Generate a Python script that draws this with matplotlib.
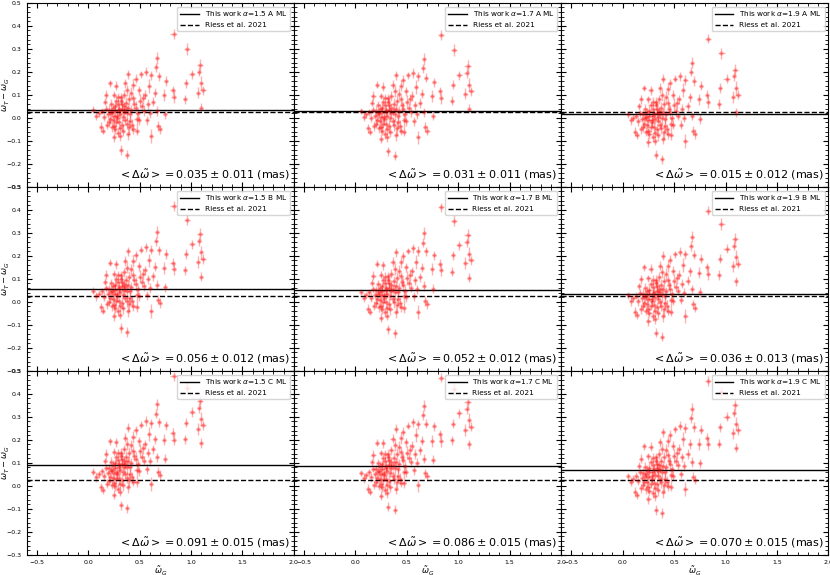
import numpy as np
import matplotlib
matplotlib.use('Agg')
import matplotlib.pyplot as plt
#
# Gaia parallax (x) shared by all panels
x = [0.83, 0.96, 0.67, 0.66, 1.09, 1.08, 1.01, 0.95, 1.10, 1.12,
     1.07, 0.94, 1.10, 0.82, 0.83, 0.76, 0.74, 0.39, 0.46, 0.51,
     0.56, 0.61, 0.69, 0.21, 0.27, 0.36, 0.44, 0.49, 0.59, 0.65,
     0.175, 0.25, 0.42, 0.55, 0.63, 0.16, 0.32, 0.50, 0.05, 0.08,
     0.13, 0.20, 0.26, 0.33, 0.39, 0.46, 0.54, 0.60, 0.67, 0.75,
     0.15, 0.21, 0.28, 0.34, 0.41, 0.47, 0.57, 0.12, 0.18, 0.25,
     0.31, 0.375, 0.44, 0.49, 0.68, 0.70, 0.14, 0.25, 0.31, 0.39,
     0.47, 0.61, 0.32, 0.38, 0.24, 0.295, 0.23, 0.345, 0.28, 0.30,
     0.22, 0.36, 0.27, 0.19, 0.33, 0.40, 0.52, 0.29, 0.35, 0.43,
     0.22, 0.26, 0.31, 0.35, 0.38, 0.42, 0.27, 0.33, 0.24, 0.29,
     0.37, 0.45, 0.17, 0.20, 0.26, 0.34, 0.40, 0.48, 0.30, 0.25,
     0.32, 0.38, 0.29, 0.36, 0.44, 0.53, 0.58, 0.10, 0.23, 0.41]
xerr = [0.03, 0.03, 0.02, 0.02, 0.03, 0.02, 0.03, 0.02, 0.02, 0.03,
        0.02, 0.02, 0.02, 0.02, 0.02, 0.02, 0.02, 0.02, 0.02, 0.02,
        0.02, 0.02, 0.02, 0.02, 0.02, 0.02, 0.02, 0.02, 0.02, 0.02,
        0.02, 0.02, 0.02, 0.02, 0.02, 0.02, 0.02, 0.02, 0.02, 0.02,
        0.02, 0.02, 0.02, 0.02, 0.02, 0.02, 0.02, 0.02, 0.02, 0.02,
        0.02, 0.02, 0.02, 0.02, 0.02, 0.02, 0.02, 0.02, 0.02, 0.02,
        0.02, 0.02, 0.02, 0.02, 0.02, 0.02, 0.02, 0.02, 0.02, 0.02,
        0.02, 0.02, 0.02, 0.02, 0.02, 0.02, 0.02, 0.02, 0.02, 0.02,
        0.02, 0.02, 0.02, 0.02, 0.02, 0.02, 0.02, 0.02, 0.02, 0.02,
        0.02, 0.02, 0.02, 0.02, 0.02, 0.02, 0.02, 0.02, 0.02, 0.02,
        0.02, 0.02, 0.02, 0.02, 0.02, 0.02, 0.02, 0.02, 0.02, 0.02,
        0.02, 0.02, 0.02, 0.02, 0.02, 0.02, 0.02, 0.02, 0.02, 0.02]
yerr = [0.02, 0.025, 0.025, 0.02, 0.025, 0.02, 0.02, 0.02, 0.03, 0.02,
        0.025, 0.02, 0.02, 0.02, 0.025, 0.02, 0.025, 0.02, 0.02, 0.015,
        0.02, 0.02, 0.02, 0.015, 0.02, 0.02, 0.025, 0.02, 0.03, 0.02,
        0.02, 0.015, 0.025, 0.02, 0.02, 0.015, 0.02, 0.03, 0.015, 0.02,
        0.015, 0.02, 0.02, 0.025, 0.02, 0.03, 0.02, 0.02, 0.02, 0.02,
        0.02, 0.02, 0.025, 0.02, 0.02, 0.03, 0.02, 0.02, 0.02, 0.025,
        0.02, 0.025, 0.02, 0.02, 0.02, 0.02, 0.015, 0.02, 0.02, 0.025,
        0.02, 0.03, 0.02, 0.02, 0.02, 0.02, 0.02, 0.02, 0.02, 0.025,
        0.02, 0.02, 0.02, 0.015, 0.02, 0.025, 0.02, 0.02, 0.02, 0.025,
        0.02, 0.025, 0.02, 0.02, 0.03, 0.02, 0.02, 0.025, 0.02, 0.02,
        0.025, 0.02, 0.015, 0.02, 0.02, 0.025, 0.03, 0.02, 0.02, 0.02,
        0.02, 0.025, 0.02, 0.02, 0.02, 0.025, 0.02, 0.015, 0.02, 0.025]
#
yA15 = [0.365, 0.30, 0.26, 0.22, 0.23, 0.20, 0.19, 0.15, 0.15, 0.12,
        0.11, 0.08, 0.045, 0.12, 0.09, 0.16, 0.10, 0.19, 0.17, 0.19,
        0.20, 0.185, 0.18, 0.15, 0.14, 0.15, 0.145, 0.12, 0.14, 0.11,
        0.10, 0.10, 0.11, 0.10, 0.07, 0.07, 0.075, 0.075, 0.035, 0.01,
        0.03, 0.035, 0.05, 0.06, 0.045, 0.045, 0.03, 0.02, 0.03, 0.015,
        0.005, -0.005, 0.01, 0.005, 0.015, -0.005, -0.01, -0.04, -0.03, -0.035,
        -0.045, -0.025, -0.05, -0.01, -0.035, -0.05, -0.055, -0.085, -0.08, -0.07,
        -0.055, -0.08, -0.14, -0.16, -0.01, 0.03, 0.025, 0.025, 0.0, -0.02,
        0.06, -0.01, 0.075, 0.015, 0.04, 0.08, 0.05, 0.09, 0.10, -0.03,
        0.02, 0.03, 0.015, 0.05, 0.02, 0.035, -0.02, -0.03, 0.045, 0.06,
        0.065, 0.06, 0.04, -0.02, -0.05, -0.055, -0.04, 0.02, 0.04, 0.01,
        0.09, 0.12, -0.065, 0.035, 0.085, 0.085, 0.06, 0.02, -0.04, -0.015]
yA17 = [0.36, 0.295, 0.255, 0.215, 0.225, 0.195, 0.185, 0.145, 0.145, 0.115,
        0.105, 0.075, 0.04, 0.115, 0.085, 0.155, 0.095, 0.185, 0.165, 0.185,
        0.195, 0.18, 0.175, 0.145, 0.135, 0.145, 0.14, 0.115, 0.135, 0.105,
        0.095, 0.095, 0.105, 0.095, 0.065, 0.065, 0.07, 0.07, 0.03, 0.005,
        0.025, 0.03, 0.045, 0.055, 0.04, 0.04, 0.025, 0.015, 0.025, 0.01,
        0.0, -0.01, 0.005, 0.0, 0.01, -0.01, -0.015, -0.045, -0.035, -0.04,
        -0.05, -0.03, -0.055, -0.015, -0.04, -0.055, -0.06, -0.09, -0.085, -0.075,
        -0.06, -0.085, -0.145, -0.165, -0.015, 0.025, 0.02, 0.02, -0.005, -0.025,
        0.055, -0.015, 0.07, 0.01, 0.035, 0.075, 0.045, 0.085, 0.095, -0.035,
        0.015, 0.025, 0.01, 0.045, 0.015, 0.03, -0.025, -0.035, 0.04, 0.055,
        0.06, 0.055, 0.035, -0.025, -0.055, -0.06, -0.045, 0.015, 0.035, 0.005,
        0.085, 0.115, -0.07, 0.03, 0.08, 0.08, 0.055, 0.015, -0.045, -0.02]
yA19 = [0.345, 0.28, 0.24, 0.20, 0.21, 0.18, 0.17, 0.13, 0.13, 0.10,
        0.09, 0.06, 0.025, 0.10, 0.07, 0.14, 0.08, 0.17, 0.15, 0.17,
        0.18, 0.165, 0.16, 0.13, 0.12, 0.13, 0.125, 0.10, 0.12, 0.09,
        0.08, 0.08, 0.09, 0.08, 0.05, 0.05, 0.055, 0.055, 0.015, -0.01,
        0.01, 0.015, 0.03, 0.04, 0.025, 0.025, 0.01, 0.0, 0.01, -0.005,
        -0.015, -0.025, -0.01, -0.015, -0.005, -0.025, -0.03, -0.06, -0.05, -0.055,
        -0.065, -0.045, -0.07, -0.03, -0.055, -0.07, -0.075, -0.105, -0.10, -0.09,
        -0.075, -0.10, -0.16, -0.18, -0.03, 0.01, 0.005, 0.005, -0.02, -0.04,
        0.04, -0.03, 0.055, -0.005, 0.02, 0.06, 0.03, 0.07, 0.08, -0.05,
        0.0, 0.01, -0.005, 0.03, 0.0, 0.015, -0.04, -0.05, 0.025, 0.04,
        0.045, 0.04, 0.02, -0.04, -0.07, -0.075, -0.06, 0.0, 0.02, -0.01,
        0.07, 0.10, -0.085, 0.015, 0.065, 0.065, 0.04, 0.0, -0.06, -0.035]
yB15 = [0.417, 0.358, 0.304, 0.263, 0.295, 0.264, 0.251, 0.208, 0.215, 0.186,
        0.174, 0.137, 0.11, 0.171, 0.142, 0.208, 0.147, 0.22, 0.203, 0.226,
        0.238, 0.226, 0.225, 0.171, 0.164, 0.178, 0.177, 0.155, 0.18, 0.153,
        0.119, 0.123, 0.141, 0.138, 0.112, 0.088, 0.101, 0.11, 0.048, 0.024,
        0.047, 0.055, 0.073, 0.087, 0.075, 0.078, 0.067, 0.06, 0.074, 0.063,
        0.023, 0.016, 0.034, 0.032, 0.046, 0.029, 0.029, -0.024, -0.011, -0.013,
        -0.02, 0.004, -0.018, 0.025, 0.009, -0.005, -0.038, -0.063, -0.055, -0.041,
        -0.022, -0.04, -0.114, -0.131, 0.012, 0.055, 0.047, 0.052, 0.024, 0.005,
        0.081, 0.018, 0.099, 0.035, 0.067, 0.11, 0.086, 0.115, 0.128, 0.002,
        0.041, 0.053, 0.041, 0.078, 0.049, 0.066, 0.004, -0.004, 0.067, 0.085,
        0.094, 0.093, 0.059, 0.0, -0.027, -0.028, -0.01, 0.054, 0.065, 0.033,
        0.116, 0.149, -0.041, 0.063, 0.117, 0.122, 0.099, 0.035, -0.019, 0.016]
yB17 = [0.412, 0.353, 0.299, 0.258, 0.29, 0.259, 0.246, 0.203, 0.21, 0.181,
        0.169, 0.132, 0.105, 0.166, 0.137, 0.203, 0.142, 0.215, 0.198, 0.221,
        0.233, 0.221, 0.22, 0.166, 0.159, 0.173, 0.172, 0.15, 0.175, 0.148,
        0.114, 0.118, 0.136, 0.133, 0.107, 0.083, 0.096, 0.105, 0.043, 0.019,
        0.042, 0.05, 0.068, 0.082, 0.07, 0.073, 0.062, 0.055, 0.069, 0.058,
        0.018, 0.011, 0.029, 0.027, 0.041, 0.024, 0.024, -0.029, -0.016, -0.018,
        -0.025, -0.001, -0.023, 0.02, 0.004, -0.01, -0.043, -0.068, -0.06, -0.046,
        -0.027, -0.045, -0.119, -0.136, 0.007, 0.05, 0.042, 0.047, 0.019, 0.0,
        0.076, 0.013, 0.094, 0.03, 0.062, 0.105, 0.081, 0.11, 0.123, -0.003,
        0.036, 0.048, 0.036, 0.073, 0.044, 0.061, -0.001, -0.009, 0.062, 0.08,
        0.089, 0.088, 0.054, -0.005, -0.032, -0.033, -0.015, 0.049, 0.06, 0.028,
        0.111, 0.144, -0.046, 0.058, 0.112, 0.117, 0.094, 0.03, -0.024, 0.011]
yB19 = [0.397, 0.338, 0.284, 0.243, 0.275, 0.244, 0.231, 0.188, 0.195, 0.166,
        0.154, 0.117, 0.09, 0.151, 0.122, 0.188, 0.127, 0.20, 0.183, 0.206,
        0.218, 0.206, 0.205, 0.151, 0.144, 0.158, 0.157, 0.135, 0.16, 0.133,
        0.099, 0.103, 0.121, 0.118, 0.092, 0.068, 0.081, 0.09, 0.028, 0.004,
        0.027, 0.035, 0.053, 0.067, 0.055, 0.058, 0.047, 0.04, 0.054, 0.043,
        0.003, -0.004, 0.014, 0.012, 0.026, 0.009, 0.009, -0.044, -0.031, -0.033,
        -0.04, -0.016, -0.038, 0.005, -0.011, -0.025, -0.058, -0.083, -0.075, -0.061,
        -0.042, -0.06, -0.134, -0.151, -0.008, 0.035, 0.027, 0.032, 0.004, -0.015,
        0.061, -0.002, 0.079, 0.015, 0.047, 0.09, 0.066, 0.095, 0.108, -0.018,
        0.021, 0.033, 0.021, 0.058, 0.029, 0.046, -0.016, -0.024, 0.047, 0.065,
        0.074, 0.073, 0.039, -0.02, -0.047, -0.048, -0.03, 0.034, 0.045, 0.013,
        0.096, 0.129, -0.061, 0.043, 0.097, 0.102, 0.079, 0.015, -0.039, -0.004]
yC15 = [0.476, 0.426, 0.354, 0.313, 0.37, 0.339, 0.321, 0.275, 0.291, 0.263,
        0.248, 0.203, 0.186, 0.23, 0.201, 0.264, 0.201, 0.253, 0.241, 0.266,
        0.282, 0.272, 0.276, 0.193, 0.19, 0.21, 0.213, 0.194, 0.225, 0.202,
        0.139, 0.148, 0.176, 0.18, 0.159, 0.108, 0.13, 0.15, 0.061, 0.039,
        0.064, 0.077, 0.099, 0.116, 0.108, 0.116, 0.109, 0.106, 0.124, 0.118,
        0.042, 0.038, 0.061, 0.062, 0.08, 0.067, 0.073, -0.007, 0.01, 0.013,
        0.009, 0.036, 0.018, 0.064, 0.06, 0.047, -0.02, -0.038, -0.026, -0.007,
        0.017, 0.007, -0.085, -0.098, 0.036, 0.082, 0.07, 0.083, 0.051, 0.033,
        0.104, 0.05, 0.125, 0.056, 0.096, 0.144, 0.127, 0.142, 0.159, 0.037,
        0.064, 0.079, 0.069, 0.109, 0.082, 0.101, 0.03, 0.026, 0.091, 0.112,
        0.126, 0.13, 0.079, 0.022, -0.001, 0.002, 0.024, 0.093, 0.093, 0.058,
        0.145, 0.182, -0.013, 0.095, 0.153, 0.163, 0.144, 0.051, 0.005, 0.05]
yC17 = [0.471, 0.421, 0.349, 0.308, 0.365, 0.334, 0.316, 0.27, 0.286, 0.258,
        0.243, 0.198, 0.181, 0.225, 0.196, 0.259, 0.196, 0.248, 0.236, 0.261,
        0.277, 0.267, 0.271, 0.188, 0.185, 0.205, 0.208, 0.189, 0.22, 0.197,
        0.134, 0.143, 0.171, 0.175, 0.154, 0.103, 0.125, 0.145, 0.056, 0.034,
        0.059, 0.072, 0.094, 0.111, 0.103, 0.111, 0.104, 0.101, 0.119, 0.113,
        0.037, 0.033, 0.056, 0.057, 0.075, 0.062, 0.068, -0.012, 0.005, 0.008,
        0.004, 0.031, 0.013, 0.059, 0.055, 0.042, -0.025, -0.043, -0.031, -0.012,
        0.012, 0.002, -0.09, -0.103, 0.031, 0.077, 0.065, 0.078, 0.046, 0.028,
        0.099, 0.045, 0.12, 0.051, 0.091, 0.139, 0.122, 0.137, 0.154, 0.032,
        0.059, 0.074, 0.064, 0.104, 0.077, 0.096, 0.025, 0.021, 0.086, 0.107,
        0.121, 0.125, 0.074, 0.017, -0.006, -0.003, 0.019, 0.088, 0.088, 0.053,
        0.14, 0.177, -0.018, 0.09, 0.148, 0.158, 0.139, 0.046, 0.0, 0.045]
yC19 = [0.456, 0.406, 0.334, 0.293, 0.35, 0.319, 0.301, 0.255, 0.271, 0.243,
        0.228, 0.183, 0.166, 0.21, 0.181, 0.244, 0.181, 0.233, 0.221, 0.246,
        0.262, 0.252, 0.256, 0.173, 0.17, 0.19, 0.193, 0.174, 0.205, 0.182,
        0.119, 0.128, 0.156, 0.16, 0.139, 0.088, 0.11, 0.13, 0.041, 0.019,
        0.044, 0.057, 0.079, 0.096, 0.088, 0.096, 0.089, 0.086, 0.104, 0.098,
        0.022, 0.018, 0.041, 0.042, 0.06, 0.047, 0.053, -0.027, -0.01, -0.007,
        -0.011, 0.016, -0.002, 0.044, 0.04, 0.027, -0.04, -0.058, -0.046, -0.027,
        -0.003, -0.013, -0.105, -0.118, 0.016, 0.062, 0.05, 0.063, 0.031, 0.013,
        0.084, 0.03, 0.105, 0.036, 0.076, 0.124, 0.107, 0.122, 0.139, 0.017,
        0.044, 0.059, 0.049, 0.089, 0.062, 0.081, 0.01, 0.006, 0.071, 0.092,
        0.106, 0.11, 0.059, 0.002, -0.021, -0.018, 0.004, 0.073, 0.073, 0.038,
        0.125, 0.162, -0.033, 0.075, 0.133, 0.143, 0.124, 0.031, -0.015, 0.03]
#
ys = [[yA15, yA17, yA19], [yB15, yB17, yB19], [yC15, yC17, yC19]]
alphas = ['1.5', '1.7', '1.9']
models = ['A', 'B', 'C']
means = [[0.035, 0.031, 0.015], [0.056, 0.052, 0.036], [0.091, 0.086, 0.070]]
errs = [[0.011, 0.011, 0.012], [0.012, 0.012, 0.013], [0.015, 0.015, 0.015]]
riess = 0.024
#
fig = plt.figure(figsize=(8.3, 5.75), dpi=100)
axes = fig.subplots(3, 3, sharex=True, sharey=True)
fig.subplots_adjust(left=0.032, right=0.998, bottom=0.035, top=0.995,
                    wspace=0, hspace=0)
for i in range(3):
    for j in range(3):
        ax = axes[i, j]
        ax.errorbar(x, ys[i][j], xerr=xerr, yerr=yerr, fmt='o', color='red',
                    ms=3, mew=0, elinewidth=1, alpha=0.3)
        ax.axhline(means[i][j], color='k', lw=1.0,
                   label=r'This work $\alpha$='+alphas[j]+' '+models[i]+' ML')
        ax.axhline(riess, color='k', lw=1.0, ls='--', label='Riess et al. 2021')
        ax.legend(loc='upper right', fontsize=5.3, handlelength=2.5)
        ax.text(0.985, 0.025,
                r'$<\Delta\tilde{\omega}> = %.3f \pm %.3f$ (mas)' % (means[i][j], errs[i][j]),
                transform=ax.transAxes, ha='right', va='bottom', fontsize=8)
        ax.minorticks_on()
        ax.tick_params(which='both', direction='in', top=True, right=True,
                       labelsize=4.5)
        if j == 0:
            ax.set_ylabel(r'$\tilde{\omega}_T - \tilde{\omega}_G$', fontsize=6)
            ax.yaxis.set_label_coords(-0.055, 0.5)
        if i == 2:
            ax.set_xlabel(r'$\tilde{\omega}_G$', fontsize=6)
            ax.xaxis.set_label_coords(0.5, -0.055)
ax.set_xlim(-0.6, 2.0)
ax.set_ylim(-0.3, 0.5)
fig.savefig('out.png', dpi=100)
